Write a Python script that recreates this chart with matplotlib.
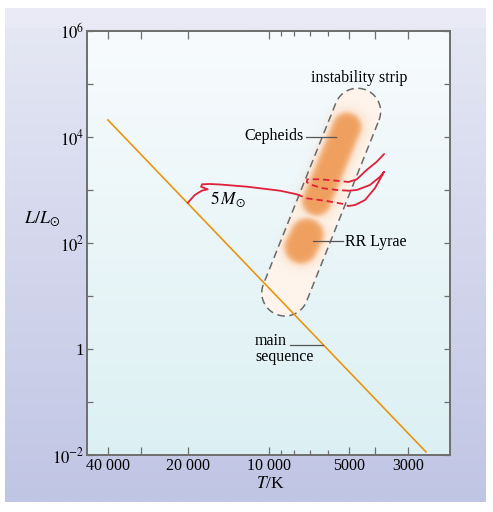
import numpy as np
import matplotlib.pyplot as plt
from matplotlib.patches import Polygon, Rectangle

plt.rcParams['font.family'] = 'serif'
plt.rcParams['font.serif'] = ['Liberation Serif', 'DejaVu Serif']
plt.rcParams['mathtext.fontset'] = 'stix'

# axis ranges (T in K, L in L_sun)
T_range = [47900, 2090]
L_range = [1e-2, 1e6]

x_major = [40000, 30000, 20000, 10000, 5000, 4000, 3000]
x_labels = ['40 000', '', '20 000', '10 000', '5000', '', '3000']
x_minor = [9000, 8000, 7000, 6000]
y_major = [1e-2, 1e-1, 1, 1e1, 1e2, 1e3, 1e4, 1e5, 1e6]
y_labels = ['$10^{-2}$', '', '1', '', '$10^{2}$', '', '$10^{4}$', '', '$10^{6}$']

# main sequence
ms_T = [40000, 2570]
ms_L = [2.1e4, 0.0114]

# 5 M_sun evolutionary track, pieces alternate solid / dashed
track_T = [
    [20100, 19500, 18900, 17800, 16900, 17900, 17750, 16600, 15200, 12000, 9060, 7840],
    [7840, 7190, 6050, 5250, 5020],
    [5020, 4740, 4350, 3990, 3690, 3820, 4170, 4670, 5020],
    [5020, 5550, 6240, 6890, 7190, 7160, 6410, 5550, 5020],
    [5020, 4670, 4290, 3930, 3690],
]
track_L = [
    [570, 676, 805, 970, 1030, 1153, 1282, 1298, 1270, 1153, 970, 830],
    [830, 697, 620, 545, 499],
    [499, 521, 647, 1091, 2213, 1782, 1242, 1000, 970],
    [970, 1000, 1076, 1242, 1397, 1592, 1592, 1497, 1416],
    [1416, 1592, 2384, 3420, 4780],
]
track_dashed = [False, True, False, True, False]

# instability strip: end-cap centres
strip_T = [4645, 8680]
strip_L = [30270, 11.5]

# Cepheid and RR Lyrae regions (segment ends)
cep_T = [5080, 6600]
cep_L = [15450, 620]
rr_T = [7170, 7550]
rr_L = [142, 84]

fig = plt.figure(figsize=(4.93, 5.12), dpi=100)
px = fig.dpi / 72.0

# lavender panel behind everything
bg = fig.add_axes([0, 0, 1, 1], zorder=-10)
bg.set_xlim(0, 1)
bg.set_ylim(0, 1)
bg.axis('off')
g = np.linspace(0, 1, 256)[:, None, None]
top_c = np.array([229, 231, 244]) / 255
bot_c = np.array([192, 197, 228]) / 255
grad = top_c * (1 - g) + bot_c * g
bg.imshow(grad, extent=[5 / 493, 486 / 493, 10 / 512, 484 / 512],
          aspect='auto', origin='upper')
bg.add_patch(Rectangle((5 / 493, 484 / 512), 481 / 493, 20 / 512,
                       color=(233 / 255, 234 / 255, 246 / 255), lw=0))

ax = fig.add_axes([87 / 493, 57 / 512, 363 / 493, 424 / 512])
xlim = np.log10(T_range)
ylim = np.log10(L_range)

# plot area gradient
top_p = np.array([248, 251, 253]) / 255
bot_p = np.array([220, 240, 243]) / 255
ax.imshow(top_p * (1 - g) + bot_p * g, extent=[xlim[0], xlim[1], ylim[0], ylim[1]],
          aspect='auto', origin='upper', zorder=0)
ax.set_xlim(*xlim)
ax.set_ylim(*ylim)


def capsule(T, L, r, n=80):
    p = ax.transData.transform(np.column_stack([np.log10(T), np.log10(L)]))
    a, b = p[0], p[1]
    u = (a - b) / np.hypot(*(a - b))
    ang = np.arctan2(u[1], u[0])
    t1 = np.linspace(ang - np.pi / 2, ang + np.pi / 2, n)
    t2 = t1 + np.pi
    pts = np.vstack([a + r * np.column_stack([np.cos(t1), np.sin(t1)]),
                     b + r * np.column_stack([np.cos(t2), np.sin(t2)])])
    return ax.transData.inverted().transform(pts)


strip = capsule(strip_T, strip_L, 16.7 * px)
ax.add_patch(Polygon(strip, closed=True, facecolor='#fef4ec', edgecolor='none', zorder=1))

# soft orange blobs
nx, ny = 726, 848
X, Y = np.meshgrid(np.linspace(xlim[0], xlim[1], nx), np.linspace(ylim[0], ylim[1], ny))
P = ax.transData.transform(np.column_stack([X.ravel(), Y.ravel()])).reshape(ny, nx, 2)


def seg_dist(T, L):
    a, b = ax.transData.transform(np.column_stack([np.log10(T), np.log10(L)]))
    ab = b - a
    t = np.clip(((P - a) @ ab) / (ab @ ab), 0, 1)
    d = P - (a + t[..., None] * ab)
    return np.hypot(d[..., 0], d[..., 1])


def soft(d, r, s):
    return 1 / (1 + np.exp((d - r) / s))


d1 = seg_dist(cep_T, cep_L)
d2 = seg_dist(rr_T, rr_L)
core = np.maximum(soft(d1, 14.5, 1.8), soft(d2, 16.5, 1.8))
halo = np.maximum(soft(d1, 20, 2.5), soft(d2, 21, 2.5)) * 0.2
alpha = np.maximum(core, halo)
img = np.zeros((ny, nx, 4))
img[..., :3] = np.array([240, 160, 94]) / 255
img[..., 3] = alpha
ax.imshow(img, extent=[xlim[0], xlim[1], ylim[0], ylim[1]], aspect='auto',
          origin='lower', interpolation='bilinear', zorder=2)
ax.set_xlim(*xlim)
ax.set_ylim(*ylim)

ax.add_patch(Polygon(strip, closed=True, fill=False, edgecolor='#6a6a6a',
                     lw=1.1, linestyle=(0, (5, 3)), zorder=3))

ax.plot(np.log10(ms_T), np.log10(ms_L), color='#e8960f', lw=1.2, zorder=4)

for tt, ll, dashed in zip(track_T, track_L, track_dashed):
    ax.plot(np.log10(tt), np.log10(ll), color='#e0203a', lw=1.3, zorder=5,
            linestyle=(0, (3.5, 2.2)) if dashed else '-', solid_capstyle='round')

# labels and leader lines
ax.text(np.log10(4580), np.log10(1.3e5), 'instability strip', ha='center',
        va='center', fontsize=11.5, zorder=6)
ax.text(np.log10(7360), np.log10(10450), 'Cepheids', ha='right', va='center',
        fontsize=11.5, zorder=6)
ax.plot(np.log10([7236, 5586]), np.log10([1e4, 1e4]), color='#555555', lw=0.9, zorder=6)
ax.text(np.log10(14180), np.log10(676), r'$5\,M_{\odot}$', ha='center', va='center',
        fontsize=12.5, zorder=6)
ax.text(np.log10(5170), np.log10(106), 'RR Lyrae', ha='left', va='center',
        fontsize=11.5, zorder=6)
ax.plot(np.log10([6811, 5258]), np.log10([109, 109]), color='#555555', lw=0.9, zorder=6)
ax.text(np.log10(11240), np.log10(1.02), 'main\nsequence', ha='left', va='center',
        fontsize=11.5, linespacing=1.0, zorder=6)
ax.plot(np.log10([8305, 6266]), np.log10([1.17, 1.17]), color='#555555', lw=0.9, zorder=6)

# ticks
ax.set_xticks(np.log10(x_major))
ax.set_xticklabels(x_labels)
ax.set_xticks(np.log10(x_minor), minor=True)
ax.set_yticks(np.log10(y_major))
ax.set_yticklabels(y_labels)
ax.tick_params(axis='x', which='major', direction='in', top=True, length=5.8,
               width=0.9, color='#6e6e6e', labelsize=11.5, pad=2.5)
ax.tick_params(axis='x', which='minor', direction='in', top=True, length=3.6,
               width=0.9, color='#6e6e6e')
ax.tick_params(axis='y', direction='in', right=True, length=4.3, width=0.9,
               color='#6e6e6e', labelsize=12, pad=2)
for s in ax.spines.values():
    s.set_color('#6e6e6e')
    s.set_linewidth(1.4)

fig.text(42 / 493, 1 - 218 / 512, r'$L/L_{\odot}$', ha='center', va='center', fontsize=13)
fig.text(270 / 493, 1 - 488 / 512, r'$T$/K', ha='center', va='baseline', fontsize=12.5)

fig.savefig('out.png', dpi=100)
